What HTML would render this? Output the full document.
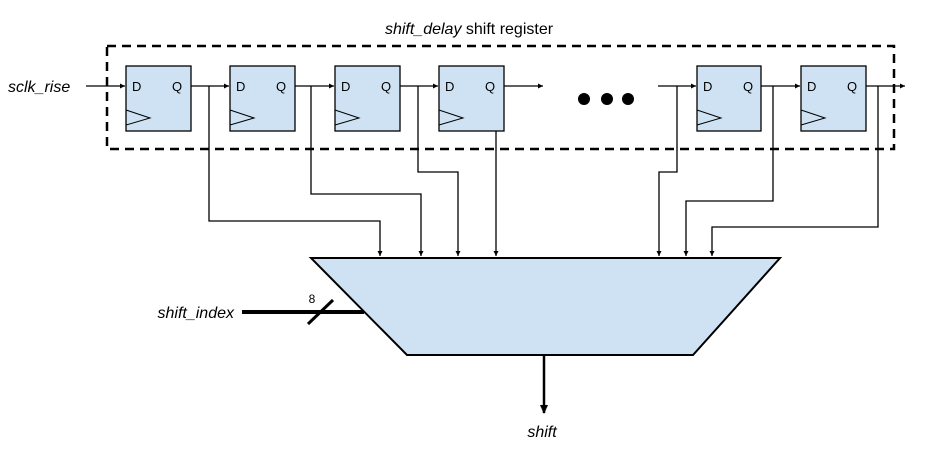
<!DOCTYPE html>
<html><head><meta charset="utf-8"><style>
html,body{margin:0;padding:0;background:#fff;}
svg{display:block;font-family:"Liberation Sans",Arial,sans-serif;}
</style></head><body>
<svg width="926" height="455" viewBox="0 0 926 455" xmlns="http://www.w3.org/2000/svg">
<defs>
<marker id="a" markerWidth="6" markerHeight="6" refX="5" refY="3" orient="auto" markerUnits="userSpaceOnUse"><path d="M0,0.5 L5,3 L0,5.5 z" fill="#000"/></marker>
<marker id="b" markerWidth="10" markerHeight="10" refX="8" refY="5" orient="auto" markerUnits="userSpaceOnUse"><path d="M0,1 L9,5 L0,9 z" fill="#000"/></marker>
</defs>
<text x="469" y="34" font-size="16" text-anchor="middle"><tspan font-style="italic">shift_delay</tspan> shift register</text>
<rect x="107" y="46" width="787" height="103" fill="none" stroke="#000" stroke-width="2.5" stroke-dasharray="9,6"/>
<text x="8" y="92" font-size="16" font-style="italic">sclk_rise</text>
<g stroke="#000" stroke-width="1.3" fill="none">
<line x1="86" y1="86" x2="125" y2="86" marker-end="url(#a)"/>
<line x1="191" y1="86" x2="229" y2="86" marker-end="url(#a)"/>
<line x1="295" y1="86" x2="334" y2="86" marker-end="url(#a)"/>
<line x1="400" y1="86" x2="438" y2="86" marker-end="url(#a)"/>
<line x1="504" y1="86" x2="543" y2="86" marker-end="url(#a)"/>
<line x1="658" y1="86" x2="696" y2="86" marker-end="url(#a)"/>
<line x1="761" y1="86" x2="800" y2="86" marker-end="url(#a)"/>
<line x1="866" y1="86" x2="905" y2="86" marker-end="url(#a)"/>
<polyline points="209,86 209,221 380,221 380,256" marker-end="url(#a)"/>
<polyline points="311,86 311,194 421,194 421,256" marker-end="url(#a)"/>
<polyline points="418,86 418,172 458,172 458,256" marker-end="url(#a)"/>
<polyline points="496,86 496,256" marker-end="url(#a)"/>
<polyline points="677,86 677,172 659,172 659,256" marker-end="url(#a)"/>
<polyline points="773,86 773,201 686,201 686,256" marker-end="url(#a)"/>
<polyline points="878,86 878,227 712,227 712,256" marker-end="url(#a)"/>
</g>
<g font-size="13">
<g transform="translate(126,66)"><rect width="65" height="65" fill="#cfe2f3" stroke="#000" stroke-width="1.3"/><polyline points="0,44 24,52 0,59" fill="none" stroke="#000" stroke-width="1"/><text x="6" y="25">D</text><text x="46" y="25">Q</text></g>
<g transform="translate(230,66)"><rect width="65" height="65" fill="#cfe2f3" stroke="#000" stroke-width="1.3"/><polyline points="0,44 24,52 0,59" fill="none" stroke="#000" stroke-width="1"/><text x="6" y="25">D</text><text x="46" y="25">Q</text></g>
<g transform="translate(335,66)"><rect width="65" height="65" fill="#cfe2f3" stroke="#000" stroke-width="1.3"/><polyline points="0,44 24,52 0,59" fill="none" stroke="#000" stroke-width="1"/><text x="6" y="25">D</text><text x="46" y="25">Q</text></g>
<g transform="translate(439,66)"><rect width="65" height="65" fill="#cfe2f3" stroke="#000" stroke-width="1.3"/><polyline points="0,44 24,52 0,59" fill="none" stroke="#000" stroke-width="1"/><text x="6" y="25">D</text><text x="46" y="25">Q</text></g>
<g transform="translate(697,66)"><rect width="64" height="65" fill="#cfe2f3" stroke="#000" stroke-width="1.3"/><polyline points="0,44 24,52 0,59" fill="none" stroke="#000" stroke-width="1"/><text x="6" y="25">D</text><text x="46" y="25">Q</text></g>
<g transform="translate(801,66)"><rect width="65" height="65" fill="#cfe2f3" stroke="#000" stroke-width="1.3"/><polyline points="0,44 24,52 0,59" fill="none" stroke="#000" stroke-width="1"/><text x="6" y="25">D</text><text x="46" y="25">Q</text></g>
</g>
<circle cx="584" cy="99" r="6"/><circle cx="607" cy="99" r="6"/><circle cx="628" cy="99" r="6"/>
<polygon points="311,258 780,258 693,355 407,355" fill="#cfe2f3" stroke="#000" stroke-width="2"/>
<line x1="242" y1="312" x2="364" y2="312" stroke="#000" stroke-width="4"/>
<line x1="308" y1="324" x2="333" y2="300" stroke="#000" stroke-width="3"/>
<text x="312" y="303" font-size="12" text-anchor="middle">8</text>
<text x="234" y="318" font-size="16" font-style="italic" text-anchor="end">shift_index</text>
<line x1="544" y1="355" x2="544" y2="413" stroke="#000" stroke-width="2.5" marker-end="url(#b)"/>
<text x="542" y="437" font-size="16" font-style="italic" text-anchor="middle">shift</text>
</svg>
</body></html>
